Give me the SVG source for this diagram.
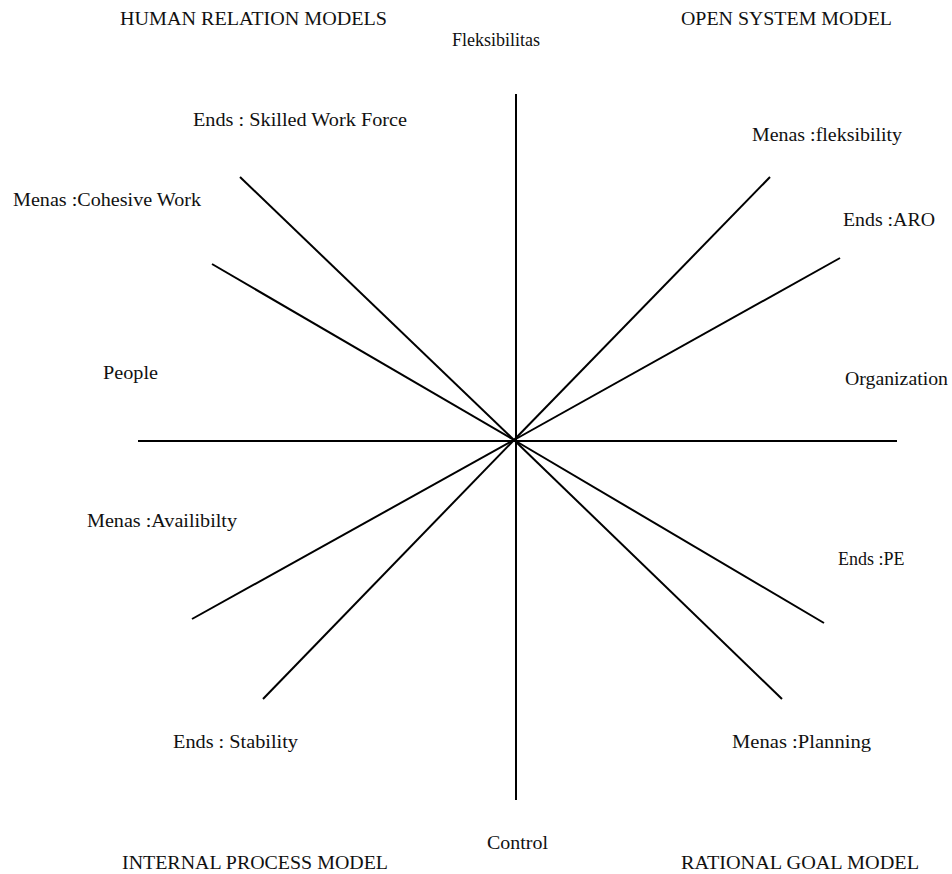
<svg xmlns="http://www.w3.org/2000/svg" width="952" height="874" viewBox="0 0 952 874">
  <style>
    text { font-family: "Liberation Serif", "Times New Roman", serif; font-size: 18px; fill: #111; }
    .axis line { stroke: #000; stroke-width: 2; stroke-linecap: butt; }
  </style>
  <rect width="952" height="874" fill="#fff"/>

  <!-- radial axes crossing at the centre -->
  <g id="connectors" class="axis">
    <line x1="516" y1="94" x2="516" y2="800"/>
    <line x1="138" y1="441" x2="897" y2="441"/>
    <line x1="240" y1="177" x2="514" y2="440"/>
    <line x1="212" y1="264" x2="514" y2="440"/>
    <line x1="770" y1="177" x2="514" y2="440"/>
    <line x1="840" y1="258" x2="514" y2="440"/>
    <line x1="192" y1="619" x2="514" y2="440"/>
    <line x1="263" y1="699" x2="514" y2="440"/>
    <line x1="824" y1="623" x2="514" y2="440"/>
    <line x1="782" y1="699" x2="514" y2="440"/>
  </g>

  <!-- quadrant titles -->
  <g id="human-relation"><text x="120" y="25" textLength="267" lengthAdjust="spacingAndGlyphs">HUMAN RELATION MODELS</text></g>
  <g id="open-system"><text x="681" y="25" textLength="211" lengthAdjust="spacingAndGlyphs">OPEN SYSTEM MODEL</text></g>
  <g id="internal-process"><text x="122" y="869" textLength="266" lengthAdjust="spacingAndGlyphs">INTERNAL PROCESS MODEL</text></g>
  <g id="rational-goal"><text x="681" y="869" textLength="238" lengthAdjust="spacingAndGlyphs">RATIONAL GOAL MODEL</text></g>

  <!-- axis poles -->
  <g id="fleksibilitas"><text x="452" y="46">Fleksibilitas</text></g>
  <g id="control"><text x="487" y="849" textLength="61" lengthAdjust="spacingAndGlyphs">Control</text></g>
  <g id="people"><text x="103" y="379" textLength="55" lengthAdjust="spacingAndGlyphs">People</text></g>
  <g id="organization"><text x="845" y="385" textLength="103" lengthAdjust="spacingAndGlyphs">Organization</text></g>

  <!-- spoke labels -->
  <g id="ends-skilled"><text x="193" y="126" textLength="214" lengthAdjust="spacingAndGlyphs">Ends : Skilled Work Force</text></g>
  <g id="menas-cohesive"><text x="13" y="206" textLength="188" lengthAdjust="spacingAndGlyphs">Menas :Cohesive Work</text></g>
  <g id="menas-fleksibility"><text x="752" y="141" textLength="150" lengthAdjust="spacingAndGlyphs">Menas :fleksibility</text></g>
  <g id="ends-aro"><text x="843" y="226" textLength="92" lengthAdjust="spacingAndGlyphs">Ends :ARO</text></g>
  <g id="menas-availibilty"><text x="87" y="527" textLength="150" lengthAdjust="spacingAndGlyphs">Menas :Availibilty</text></g>
  <g id="ends-pe"><text x="838" y="565">Ends :PE</text></g>
  <g id="ends-stability"><text x="173" y="748" textLength="125" lengthAdjust="spacingAndGlyphs">Ends : Stability</text></g>
  <g id="menas-planning"><text x="732" y="748" textLength="139" lengthAdjust="spacingAndGlyphs">Menas :Planning</text></g>
</svg>
